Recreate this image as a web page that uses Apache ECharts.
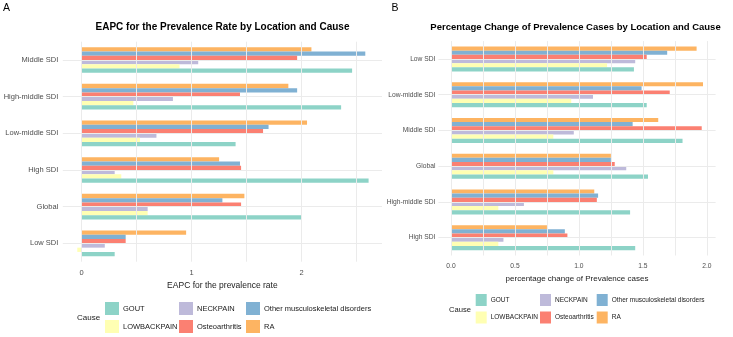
<!DOCTYPE html>
<html>
<head>
<meta charset="utf-8">
<script src="https://cdn.jsdelivr.net/npm/echarts@6/dist/echarts.min.js"></script>
<style>
html,body{margin:0;padding:0;background:#fff;}
#chart{width:733px;height:337px;}
</style>
</head>
<body>
<div id="chart"></div>
<script>
// ---- Data ----
const causes = ['GOUT', 'LOWBACKPAIN', 'NECKPAIN', 'Osteoarthritis', 'Other musculoskeletal disorders', 'RA'];
const colors = ['#8DD3C7', '#FFFFB3', '#BEBADA', '#FB8072', '#80B1D3', '#FDB462'];

// Panel A (categories listed bottom -> top)
const catsA = ['Low SDI', 'Global', 'High SDI', 'Low-middle SDI', 'High-middle SDI', 'Middle SDI'];
const goutA  = [0.30, 2.00, 2.61, 1.40, 2.36, 2.46];
const lowA   = [-0.04, 0.60, 0.36, 0.53, 0.47, 0.89];
const neckA  = [0.21, 0.60, 0.30, 0.68, 0.83, 1.06];
const osteoA = [0.40, 1.45, 1.45, 1.65, 1.44, 1.96];
const otherA = [0.40, 1.28, 1.44, 1.70, 1.96, 2.58];
const raA    = [0.95, 1.48, 1.25, 2.05, 1.88, 2.09];
const ticksA = [0, 1, 2];
const gridValsA = [0, 0.5, 1, 1.5, 2, 2.5];

// Panel B (categories listed bottom -> top)
const catsB = ['High SDI', 'High-middle SDI', 'Global', 'Middle SDI', 'Low-middle SDI', 'Low SDI'];
const goutB  = [1.44, 1.40, 1.54, 1.81, 1.53, 1.43];
const lowB   = [0.37, 0.37, 0.80, 0.80, 0.94, 1.22];
const neckB  = [0.41, 0.57, 1.37, 0.96, 1.11, 1.44];
const osteoB = [0.91, 1.14, 1.28, 1.96, 1.71, 1.53];
const otherB = [0.89, 1.15, 1.25, 1.42, 1.49, 1.69];
const raB    = [0.75, 1.12, 1.25, 1.62, 1.97, 1.92];
const ticksB = [0.0, 0.5, 1.0, 1.5, 2.0];
const gridValsB = [0, 0.25, 0.5, 0.75, 1, 1.25, 1.5, 1.75, 2];

const valsA = [goutA, lowA, neckA, osteoA, otherA, raA];
const valsB = [goutB, lowB, neckB, osteoB, otherB, raB];

// ---- Chart ----
const FONT = 'Liberation Sans, Arial, sans-serif';
const chart = echarts.init(document.getElementById('chart'), null, {renderer: 'canvas'});

function gridSeries(idx, vals, cats) {
  return {
    type: 'line', xAxisIndex: idx, yAxisIndex: idx, data: [], z: 0, silent: true,
    markLine: {
      silent: true, symbol: ['none', 'none'], animation: false,
      label: {show: false},
      lineStyle: {color: '#ebebeb', type: 'solid', width: 1},
      emphasis: {disabled: true},
      data: vals.map(v => ({xAxis: v})).concat(cats.map(c => ({yAxis: c})))
    }
  };
}

function barSeries(idx, vals) {
  // ECharts stacks the first series at the top of a horizontal group,
  // so add them in reverse to put GOUT at the bottom (as in the reference).
  const out = causes.map((c, i) => ({
    name: c, type: 'bar', xAxisIndex: idx, yAxisIndex: idx,
    data: vals[i], z: 2,
    barGap: '0%', barCategoryGap: '30%',
    itemStyle: {color: colors[i]},
    emphasis: {disabled: true}
  }));
  return out.reverse();
}

function legends(cols, rows, iw, ih, fs) {
  const out = [];
  causes.forEach((c, i) => {
    const col = Math.floor(i / 2), row = i % 2;
    out.push({
      data: [c], left: cols[col], top: rows[row], padding: 0,
      orient: 'horizontal', itemWidth: iw, itemHeight: ih, icon: 'rect',
      itemGap: 4, selectedMode: false,
      textStyle: {fontSize: fs, color: '#1a1a1a', fontFamily: FONT, padding: [0, 0, 0, -1]}
    });
  });
  return out;
}

const option = {
  animation: false,
  backgroundColor: '#ffffff',
  textStyle: {fontFamily: FONT},
  grid: [
    {left: 62.8, right: 733 - 382, top: 41.7, height: 220, containLabel: false},
    {left: 438.4, right: 733 - 715.6, top: 41.1, height: 214.4, containLabel: false}
  ],
  xAxis: [
    {
      type: 'value', gridIndex: 0, min: -0.172, max: 2.732,
      axisLine: {show: false}, axisTick: {show: false}, splitLine: {show: false},
      axisLabel: {customValues: ticksA, fontSize: 7.5, color: '#4d4d4d', margin: 7, fontFamily: FONT},
      name: 'EAPC for the prevalence rate', nameLocation: 'middle', nameGap: 19,
      nameTextStyle: {fontSize: 8.5, color: '#1a1a1a', fontFamily: FONT}
    },
    {
      type: 'value', gridIndex: 1, min: -0.0985, max: 2.0685,
      axisLine: {show: false}, axisTick: {show: false}, splitLine: {show: false},
      axisLabel: {customValues: ticksB, fontSize: 6.7, color: '#4d4d4d', margin: 7, fontFamily: FONT,
        formatter: v => v.toFixed(1)},
      name: 'percentage change of Prevalence cases', nameLocation: 'middle', nameGap: 17,
      nameTextStyle: {fontSize: 8, color: '#1a1a1a', fontFamily: FONT}
    }
  ],
  yAxis: [
    {
      type: 'category', gridIndex: 0, data: catsA,
      axisLine: {show: false}, axisTick: {show: false}, splitLine: {show: false},
      axisLabel: {fontSize: 7.5, color: '#4d4d4d', margin: 4.5, fontFamily: FONT}
    },
    {
      type: 'category', gridIndex: 1, data: catsB,
      axisLine: {show: false}, axisTick: {show: false}, splitLine: {show: false},
      axisLabel: {fontSize: 6.7, color: '#4d4d4d', margin: 3, fontFamily: FONT}
    }
  ],
  legend: legends([105, 179, 246], [302, 320], 14, 13, 7.5)
    .concat(legends([475.7, 540, 596.7], [294, 311.5], 11, 12, 6.5)),
  graphic: [
    {type: 'text', x: 3, y: 8, style: {text: 'A', font: '10.5px ' + FONT, fill: '#000', verticalAlign: 'middle'}},
    {type: 'text', x: 391.5, y: 8, style: {text: 'B', font: '10.5px ' + FONT, fill: '#000', verticalAlign: 'middle'}},
    {type: 'text', x: 222.5, y: 27, style: {text: 'EAPC for the Prevalence Rate by Location and Cause', font: 'bold 10px ' + FONT, fill: '#000', align: 'center', verticalAlign: 'middle'}},
    {type: 'text', x: 575.5, y: 27, style: {text: 'Percentage Change of Prevalence Cases by Location and Cause', font: 'bold 9.5px ' + FONT, fill: '#000', align: 'center', verticalAlign: 'middle'}},
    {type: 'text', x: 77, y: 318, style: {text: 'Cause', font: '8px ' + FONT, fill: '#1a1a1a', verticalAlign: 'middle'}},
    {type: 'text', x: 449, y: 310, style: {text: 'Cause', font: '7.6px ' + FONT, fill: '#1a1a1a', verticalAlign: 'middle'}}
  ],
  series: [gridSeries(0, gridValsA, catsA), gridSeries(1, gridValsB, catsB)]
    .concat(barSeries(0, valsA))
    .concat(barSeries(1, valsB))
};
chart.setOption(option);
</script>
</body>
</html>
